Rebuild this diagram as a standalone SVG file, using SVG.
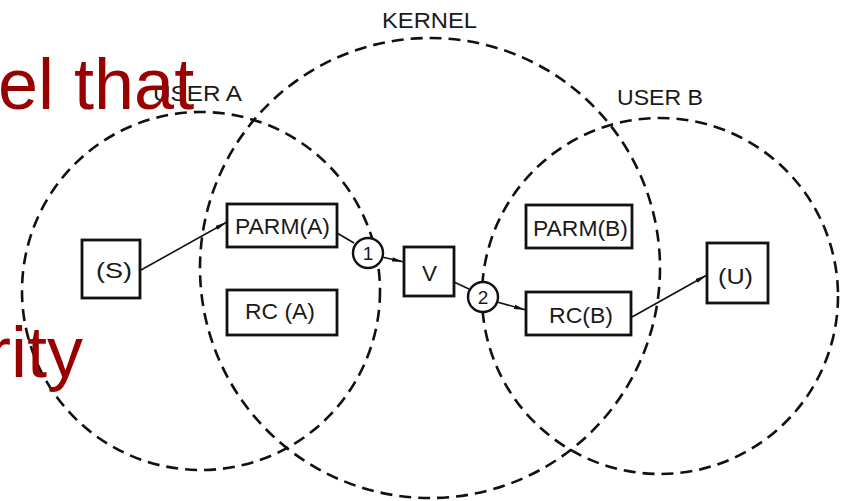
<svg xmlns="http://www.w3.org/2000/svg" width="842" height="501" viewBox="0 0 842 501">
<style>
.region{fill:none;stroke:#111;stroke-width:2.6;stroke-dasharray:12 7}
.box{fill:#fff;stroke:#111;stroke-width:2.8}
.node{fill:#fff;stroke:#111;stroke-width:2.4}
.lbl{font-family:"Liberation Sans",Arial,sans-serif;font-size:22px;fill:#1a1a1a;text-anchor:start}
.num{font-family:"Liberation Sans",Arial,sans-serif;font-size:19px;fill:#1a1a1a;text-anchor:middle}
.conn{fill:none;stroke:#111;stroke-width:1.6}
.red{font-family:"Liberation Sans",Arial,sans-serif;font-size:72px;fill:#990000}
</style>
<defs>
<marker id="arr" viewBox="0 0 12 6" refX="12" refY="3" markerWidth="12" markerHeight="6" markerUnits="userSpaceOnUse" orient="auto">
<path d="M0,0.8 L12,3 L0,5.2 Z" fill="#111"/>
</marker>
</defs>
<rect width="842" height="501" fill="#fff"/>
<g id="region-user-a">
<circle class="region" cx="201" cy="291" r="179"/>
<text class="lbl" x="153" y="101" textLength="89" lengthAdjust="spacingAndGlyphs">USER A</text>
</g>
<g id="region-kernel">
<circle class="region" cx="430" cy="268" r="230"/>
<text class="lbl" x="382" y="28" textLength="95" lengthAdjust="spacingAndGlyphs">KERNEL</text>
</g>
<g id="region-user-b">
<circle class="region" cx="660" cy="296" r="178"/>
<text class="lbl" x="617" y="105" textLength="86" lengthAdjust="spacingAndGlyphs">USER B</text>
</g>
<g id="connectors">
<line class="conn" x1="141" y1="270" x2="227" y2="222" marker-end="url(#arr)"/>
<line class="conn" x1="337" y1="233" x2="354" y2="243"/>
<line class="conn" x1="382" y1="257" x2="404" y2="262" marker-end="url(#arr)"/>
<line class="conn" x1="454" y1="282" x2="469" y2="289"/>
<line class="conn" x1="497" y1="302" x2="526" y2="310" marker-end="url(#arr)"/>
<line class="conn" x1="632" y1="317" x2="707" y2="275" marker-end="url(#arr)"/>
</g>
<g id="node-s">
<rect class="box" x="82" y="240" width="58" height="58"/>
<text class="lbl" x="96" y="278" textLength="36" lengthAdjust="spacingAndGlyphs">(S)</text>
</g>
<g id="node-parm-a">
<rect class="box" x="227" y="204" width="110" height="43"/>
<text class="lbl" x="235" y="234" textLength="95" lengthAdjust="spacingAndGlyphs">PARM(A)</text>
</g>
<g id="node-rc-a">
<rect class="box" x="227" y="290" width="110" height="45"/>
<text class="lbl" x="245" y="319" textLength="70" lengthAdjust="spacingAndGlyphs">RC (A)</text>
</g>
<g id="node-1">
<circle class="node" cx="368" cy="253" r="15"/>
<text class="num" x="368" y="260">1</text>
</g>
<g id="node-v">
<rect class="box" x="404" y="247" width="50" height="49"/>
<text class="lbl" x="422" y="281" textLength="15" lengthAdjust="spacingAndGlyphs">V</text>
</g>
<g id="node-2">
<circle class="node" cx="483" cy="297" r="15"/>
<text class="num" x="483" y="304">2</text>
</g>
<g id="node-parm-b">
<rect class="box" x="526" y="205" width="106" height="43"/>
<text class="lbl" x="533" y="236" textLength="95" lengthAdjust="spacingAndGlyphs">PARM(B)</text>
</g>
<g id="node-rc-b">
<rect class="box" x="526" y="292" width="105" height="43"/>
<text class="lbl" x="549" y="323" textLength="64" lengthAdjust="spacingAndGlyphs">RC(B)</text>
</g>
<g id="node-u">
<rect class="box" x="707" y="243" width="61" height="60"/>
<text class="lbl" x="718" y="284" textLength="35" lengthAdjust="spacingAndGlyphs">(U)</text>
</g>
<g id="overlay-text">
<text class="red" x="-2" y="109">el that</text>
<text class="red" x="-13" y="377">rity</text>
</g>
</svg>
